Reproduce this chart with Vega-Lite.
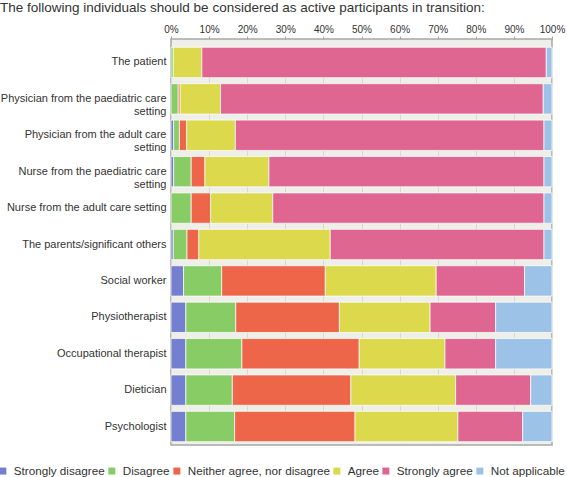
{
  "$schema": "https://vega.github.io/schema/vega-lite/v6.json",
  "width": 381,
  "height": 406,
  "autosize": {"type": "none"},
  "padding": {"left": 171, "top": 39, "right": 15, "bottom": 32},
  "background": "white",
  "title": {
    "text": "The following individuals should be considered as active participants in transition:",
    "anchor": "start",
    "frame": "group",
    "dx": -171,
    "offset": 10,
    "fontSize": 13.5,
    "fontWeight": "normal",
    "font": "Liberation Sans",
    "color": "#333333"
  },
  "config": {
    "font": "Liberation Sans",
    "view": {"stroke": "#a8a8a8", "strokeWidth": 1.5, "fill": "#efefea"}
  },
  "data": {
    "values": [
      {"role": "The patient", "response": "Disagree", "pct": 0.6},
      {"role": "The patient", "response": "Agree", "pct": 7.5},
      {"role": "The patient", "response": "Strongly agree", "pct": 90.4},
      {"role": "The patient", "response": "Not applicable", "pct": 1.5},
      {"role": "Physician from the paediatric care setting", "response": "Disagree", "pct": 1.9},
      {"role": "Physician from the paediatric care setting", "response": "Neither agree, nor disagree", "pct": 0.5},
      {"role": "Physician from the paediatric care setting", "response": "Agree", "pct": 10.6},
      {"role": "Physician from the paediatric care setting", "response": "Strongly agree", "pct": 84.7},
      {"role": "Physician from the paediatric care setting", "response": "Not applicable", "pct": 2.3},
      {"role": "Physician from the adult care setting", "response": "Strongly disagree", "pct": 0.7},
      {"role": "Physician from the adult care setting", "response": "Disagree", "pct": 1.5},
      {"role": "Physician from the adult care setting", "response": "Neither agree, nor disagree", "pct": 1.9},
      {"role": "Physician from the adult care setting", "response": "Agree", "pct": 12.8},
      {"role": "Physician from the adult care setting", "response": "Strongly agree", "pct": 81.0},
      {"role": "Physician from the adult care setting", "response": "Not applicable", "pct": 2.1},
      {"role": "Nurse from the paediatric care setting", "response": "Strongly disagree", "pct": 0.7},
      {"role": "Nurse from the paediatric care setting", "response": "Disagree", "pct": 4.6},
      {"role": "Nurse from the paediatric care setting", "response": "Neither agree, nor disagree", "pct": 3.6},
      {"role": "Nurse from the paediatric care setting", "response": "Agree", "pct": 16.8},
      {"role": "Nurse from the paediatric care setting", "response": "Strongly agree", "pct": 72.2},
      {"role": "Nurse from the paediatric care setting", "response": "Not applicable", "pct": 2.1},
      {"role": "Nurse from the adult care setting", "response": "Disagree", "pct": 5.3},
      {"role": "Nurse from the adult care setting", "response": "Neither agree, nor disagree", "pct": 5.1},
      {"role": "Nurse from the adult care setting", "response": "Agree", "pct": 16.3},
      {"role": "Nurse from the adult care setting", "response": "Strongly agree", "pct": 71.2},
      {"role": "Nurse from the adult care setting", "response": "Not applicable", "pct": 2.1},
      {"role": "The parents/significant others", "response": "Strongly disagree", "pct": 0.6},
      {"role": "The parents/significant others", "response": "Disagree", "pct": 3.6},
      {"role": "The parents/significant others", "response": "Neither agree, nor disagree", "pct": 3.1},
      {"role": "The parents/significant others", "response": "Agree", "pct": 34.5},
      {"role": "The parents/significant others", "response": "Strongly agree", "pct": 56.1},
      {"role": "The parents/significant others", "response": "Not applicable", "pct": 2.1},
      {"role": "Social worker", "response": "Strongly disagree", "pct": 3.3},
      {"role": "Social worker", "response": "Disagree", "pct": 10.0},
      {"role": "Social worker", "response": "Neither agree, nor disagree", "pct": 27.2},
      {"role": "Social worker", "response": "Agree", "pct": 29.1},
      {"role": "Social worker", "response": "Strongly agree", "pct": 23.2},
      {"role": "Social worker", "response": "Not applicable", "pct": 7.2},
      {"role": "Physiotherapist", "response": "Strongly disagree", "pct": 3.9},
      {"role": "Physiotherapist", "response": "Disagree", "pct": 13.1},
      {"role": "Physiotherapist", "response": "Neither agree, nor disagree", "pct": 27.2},
      {"role": "Physiotherapist", "response": "Agree", "pct": 23.8},
      {"role": "Physiotherapist", "response": "Strongly agree", "pct": 17.2},
      {"role": "Physiotherapist", "response": "Not applicable", "pct": 14.8},
      {"role": "Occupational therapist", "response": "Strongly disagree", "pct": 3.9},
      {"role": "Occupational therapist", "response": "Disagree", "pct": 14.7},
      {"role": "Occupational therapist", "response": "Neither agree, nor disagree", "pct": 30.8},
      {"role": "Occupational therapist", "response": "Agree", "pct": 22.5},
      {"role": "Occupational therapist", "response": "Strongly agree", "pct": 13.3},
      {"role": "Occupational therapist", "response": "Not applicable", "pct": 14.8},
      {"role": "Dietician", "response": "Strongly disagree", "pct": 3.9},
      {"role": "Dietician", "response": "Disagree", "pct": 12.2},
      {"role": "Dietician", "response": "Neither agree, nor disagree", "pct": 31.1},
      {"role": "Dietician", "response": "Agree", "pct": 27.5},
      {"role": "Dietician", "response": "Strongly agree", "pct": 19.7},
      {"role": "Dietician", "response": "Not applicable", "pct": 5.6},
      {"role": "Psychologist", "response": "Strongly disagree", "pct": 3.9},
      {"role": "Psychologist", "response": "Disagree", "pct": 12.8},
      {"role": "Psychologist", "response": "Neither agree, nor disagree", "pct": 31.6},
      {"role": "Psychologist", "response": "Agree", "pct": 27.0},
      {"role": "Psychologist", "response": "Strongly agree", "pct": 17.0},
      {"role": "Psychologist", "response": "Not applicable", "pct": 7.7}
    ]
  },
  "transform": [
    {"calculate": "indexof(['Strongly disagree', 'Disagree', 'Neither agree, nor disagree', 'Agree', 'Strongly agree', 'Not applicable'], datum.response)", "as": "stackOrder"}
  ],
  "mark": {"type": "bar", "stroke": "white", "strokeWidth": 0.8, "strokeOpacity": 0.9},
  "encoding": {
    "y": {
      "field": "role",
      "type": "nominal",
      "sort": null,
      "scale": {"range": [8.3, 402.7], "paddingInner": 0.167, "paddingOuter": 0},
      "axis": {
        "title": null,
        "domain": false,
        "ticks": false,
        "labelPadding": 5,
        "labelFontSize": 11,
        "labelColor": "#333333",
        "labelLimit": 200,
        "labelLineHeight": 13,
        "labelExpr": "length(datum.label) > 35 ? [replace(datum.label, ' setting', ''), pad('setting', 7 + round((length(datum.label) - 8) * 0.8 - 5.3), '\u00a0')] : datum.label"
      }
    },
    "x": {
      "field": "pct",
      "type": "quantitative",
      "stack": "normalize",
      "axis": {
        "orient": "top",
        "title": null,
        "format": ".0%",
        "values": [0, 0.1, 0.2, 0.3, 0.4, 0.5, 0.6, 0.7, 0.8, 0.9, 1],
        "labelFontSize": 10,
        "labelColor": "#333333",
        "labelFlush": false,
        "labelOverlap": false,
        "labelPadding": 2,
        "domain": false,
        "ticks": true,
        "tickSize": 3,
        "tickColor": "#a8a8a8",
        "grid": true,
        "gridColor": "#d9d9d3",
        "gridWidth": 1
      }
    },
    "order": {"field": "stackOrder", "type": "quantitative"},
    "color": {
      "field": "response",
      "type": "nominal",
      "sort": ["Strongly disagree", "Disagree", "Neither agree, nor disagree", "Agree", "Strongly agree", "Not applicable"],
      "scale": {
        "domain": ["Strongly disagree", "Disagree", "Neither agree, nor disagree", "Agree", "Strongly agree", "Not applicable"],
        "range": ["#7480cf", "#88cc66", "#ee6649", "#dcd94c", "#e06692", "#9cc2e8"]
      },
      "legend": {
        "orient": "none",
        "legendX": -174,
        "legendY": 426,
        "direction": "horizontal",
        "title": null,
        "symbolType": "square",
        "symbolSize": 49,
        "symbolStrokeWidth": 0,
        "labelFontSize": 11.7,
        "labelColor": "#333333",
        "labelOffset": 5,
        "columnPadding": 1
      }
    }
  }
}
